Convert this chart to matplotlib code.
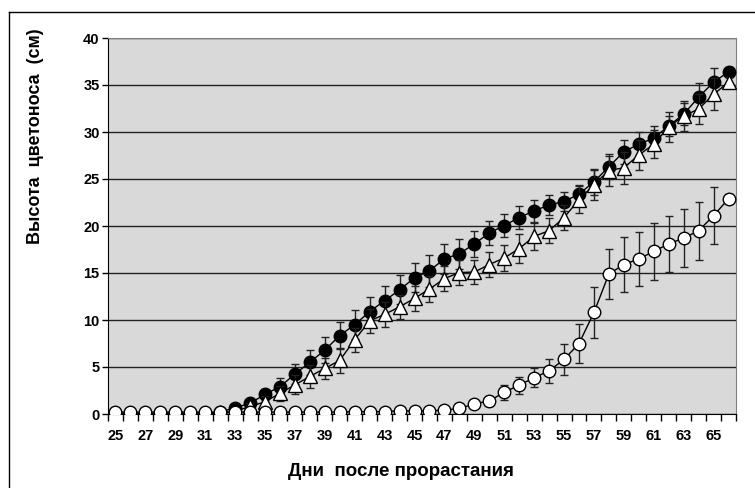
import numpy as np
import matplotlib.pyplot as plt
from matplotlib.lines import Line2D

plt.rcParams['font.family'] = ['Liberation Sans', 'DejaVu Sans']
plt.rcParams['font.weight'] = 'bold'

# days after germination
days = list(range(25, 67))

# filled circles
h_fill = [0, 0, 0, 0, 0, 0, 0, 0.2, 0.67, 1.13, 2.1, 2.9, 4.25, 5.5, 6.8, 8.35,
          9.5, 10.9, 12.05, 13.2, 14.5, 15.25, 16.5, 17.05, 18.1, 19.25, 20.05,
          20.9, 21.6, 22.25, 22.6, 23.4, 24.7, 26.3, 27.9, 28.7, 29.35, 30.65,
          31.9, 33.7, 35.3, 36.4]
e_fill = [0, 0, 0, 0, 0, 0, 0, 0.1, 0.3, 0.4, 0.6, 0.9, 1.05, 1.3, 1.4, 1.4,
          1.55, 1.55, 1.55, 1.55, 1.55, 1.7, 1.6, 1.6, 1.4, 1.3, 1.25,
          1.2, 1.2, 1.1, 1.0, 1.0, 1.35, 1.35, 1.3, 1.25, 1.25, 1.1,
          1.2, 1.55, 1.5, 0.5]

# open triangles
h_tri = [0, 0, 0, 0, 0, 0, 0, 0.1, 0.3, 0.8, 1.3, 2.2, 3.1, 4.0, 4.85, 5.7,
         7.9, 9.9, 10.6, 11.4, 12.3, 13.3, 14.4, 15.05, 15.1, 15.9, 16.6,
         17.6, 18.9, 19.5, 20.9, 22.8, 24.4, 25.9, 26.2, 27.55, 28.7, 30.55,
         31.7, 32.45, 34.0, 35.3]
e_tri = [0, 0, 0, 0, 0, 0, 0, 0.1, 0.2, 0.4, 0.6, 0.8, 1.0, 1.2, 1.1, 1.3,
         1.3, 1.3, 1.3, 1.3, 1.35, 1.35, 1.35, 1.3, 1.3, 1.3, 1.4,
         1.5, 1.4, 1.35, 1.3, 1.45, 1.6, 1.6, 1.7, 1.55, 1.5, 1.6,
         1.6, 1.6, 1.7, 0.5]

# open circles
h_open = [0.2, 0.2, 0.2, 0.2, 0.2, 0.2, 0.2, 0.2, 0.2, 0.2, 0.2, 0.2, 0.2, 0.2, 0.2, 0.2,
          0.25, 0.25, 0.25, 0.35, 0.3, 0.35, 0.4, 0.6, 1.06, 1.4, 2.3,
          3.08, 3.85, 4.6, 5.8, 7.5, 10.8, 14.9, 15.9, 16.5, 17.3, 18.1,
          18.7, 19.5, 21.1, 22.9]
e_open = [0.1] * 22 + [0.2, 0.3, 0.4, 0.5, 0.8,
                       0.9, 1.0, 1.3, 1.7, 2.1, 2.7, 2.7, 2.9, 2.9, 3.0, 3.0,
                       3.1, 3.1, 3.0, 0.5]

fig = plt.figure(figsize=(7.55, 4.88), dpi=100)
ax = fig.add_axes([108/755, 74/488, 628/755, 376/488])
ax.set_facecolor('#d9d9d9')

ebar = dict(ecolor='#222222', elinewidth=1, capsize=3, capthick=1, color='black', lw=1)
ax.errorbar(days, h_fill, yerr=e_fill, marker='o', ms=9, mfc='black', mec='black', zorder=3, **ebar)
ax.errorbar(days, h_tri, yerr=e_tri, marker='^', ms=10, mfc='white', mec='black', mew=1, zorder=4, **ebar)
ax.errorbar(days, h_open, yerr=e_open, marker='o', ms=9, mfc='white', mec='black', mew=1, zorder=5, **ebar)

ax.set_ylim(0, 40)
ax.set_yticks(range(0, 41, 5))
ax.set_xlim(24.5, 66.5)
ax.set_xticks(range(25, 66, 2))
ax.set_xticks(np.arange(24.5, 67, 1), minor=True)
ax.yaxis.grid(True, color='#222222', lw=1)
ax.set_axisbelow(True)
ax.tick_params(axis='y', direction='out', length=4, width=1, pad=2, labelsize=10.5)
ax.tick_params(axis='x', which='major', length=0, pad=11, labelsize=10.5)
ax.tick_params(axis='x', which='minor', direction='out', length=5, width=1)
for lab in ax.get_xticklabels() + ax.get_yticklabels():
    lab.set_fontweight('bold')
ax.spines['top'].set_color('#808080')
ax.spines['right'].set_color('#808080')
ax.spines['left'].set_color('black')
ax.spines['bottom'].set_color('black')

fig.text(401/755, 1 - 472/488, 'Дни  после прорастания', ha='center', va='center',
         fontsize=13.5, fontweight='bold')
fig.text(36/755, 1 - 136/488, 'Высота  цветоноса  (см)', ha='center', va='center',
         rotation=90, fontsize=13, fontweight='bold')

# outer frame
fig.add_artist(Line2D([9/755, 9/755], [0, 1 - 12/488], color='black', lw=1))
fig.add_artist(Line2D([9/755, 1], [1 - 12/488, 1 - 12/488], color='black', lw=1))

fig.savefig('out.png', dpi=100)
